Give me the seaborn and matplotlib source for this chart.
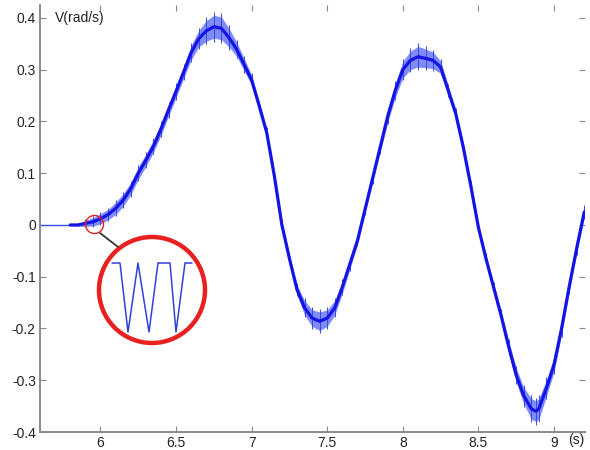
import numpy as np
import pandas as pd
import matplotlib
matplotlib.use("Agg")
import matplotlib.pyplot as plt
import seaborn as sns
from matplotlib.patches import Ellipse
from matplotlib.lines import Line2D

# ---- data ----
time_s = [5.60, 5.70, 5.80, 5.85, 5.90, 5.95, 6.00, 6.05, 6.10, 6.15, 6.20, 6.25,
          6.30, 6.35, 6.40, 6.45, 6.50, 6.55, 6.60, 6.65, 6.70, 6.75, 6.80, 6.85,
          6.90, 6.95, 7.00, 7.05, 7.10, 7.15, 7.20, 7.25, 7.30, 7.35, 7.40, 7.45,
          7.50, 7.55, 7.60, 7.65, 7.70, 7.75, 7.80, 7.85, 7.90, 7.95, 8.00, 8.05,
          8.10, 8.15, 8.20, 8.25, 8.30, 8.35, 8.40, 8.45, 8.50, 8.55, 8.60, 8.65,
          8.70, 8.75, 8.80, 8.85, 8.88, 8.90, 8.95, 9.00, 9.05, 9.10, 9.15, 9.20]
speed = [0.0, 0.0, 0.0, 0.0, 0.003, 0.006, 0.012, 0.02, 0.032, 0.048, 0.07, 0.10,
         0.125, 0.152, 0.185, 0.222, 0.258, 0.295, 0.333, 0.36, 0.375, 0.383, 0.38, 0.362,
         0.34, 0.31, 0.28, 0.23, 0.178, 0.095, 0.0, -0.065, -0.125, -0.16, -0.18, -0.186,
         -0.18, -0.16, -0.12, -0.075, -0.03, 0.03, 0.09, 0.15, 0.21, 0.26, 0.30, 0.318,
         0.325, 0.322, 0.318, 0.305, 0.26, 0.215, 0.15, 0.075, -0.005, -0.065, -0.12, -0.175,
         -0.235, -0.29, -0.33, -0.355, -0.36, -0.355, -0.315, -0.27, -0.20, -0.12, -0.045, 0.025]
noise_halfwidth = [0.0, 0.0, 0.0, 0.002, 0.006, 0.008, 0.01, 0.01, 0.012, 0.012, 0.012, 0.012,
                   0.012, 0.012, 0.012, 0.012, 0.012, 0.012, 0.014, 0.016, 0.02, 0.022, 0.022, 0.018,
                   0.014, 0.012, 0.01, 0.008, 0.008, 0.008, 0.008, 0.008, 0.01, 0.014, 0.016, 0.018,
                   0.016, 0.014, 0.012, 0.01, 0.008, 0.008, 0.008, 0.01, 0.012, 0.014, 0.016, 0.018,
                   0.02, 0.018, 0.016, 0.012, 0.01, 0.008, 0.008, 0.008, 0.008, 0.008, 0.008, 0.01,
                   0.012, 0.014, 0.016, 0.02, 0.02, 0.02, 0.016, 0.014, 0.012, 0.01, 0.01, 0.01]

x_ticks = [6, 6.5, 7, 7.5, 8, 8.5, 9]
x_tick_labels = ["6", "6.5", "7", "7.5", "8", "8.5", "9"]
y_ticks = [-0.4, -0.3, -0.2, -0.1, 0, 0.1, 0.2, 0.3, 0.4]
y_tick_labels = ["-0.4", "-0.3", "-0.2", "-0.1", "0", "0.1", "0.2", "0.3", "0.4"]

# inset (magnified waveform) shape, in inset pixel units
inset_x = [17, 25, 33, 43, 54, 63, 75, 81, 90, 97]
inset_y = [85, 85, 16, 85, 16, 85, 85, 16, 85, 85]

df = pd.DataFrame({"t": time_s, "v": speed, "hw": noise_halfwidth})
lead = df[df["t"] <= 5.85]
active = df[df["t"] >= 5.80]

sns.set_style("white")
plt.rcParams["font.family"] = ["Liberation Sans", "DejaVu Sans"]

W, H = 590, 450
fig = plt.figure(figsize=(W / 100, H / 100), dpi=100)
ax = fig.add_axes([40 / W, 1 - 432 / H, 545 / W, 427 / H])

blue = "#1414e6"
ax.fill_between(df["t"], df["v"] - df["hw"], df["v"] + df["hw"],
                color="#4a5cf2", alpha=0.7, linewidth=0)
# vertical noise spikes at each sample
ax.vlines(active["t"], active["v"] - 1.3 * active["hw"], active["v"] + 1.3 * active["hw"],
          color="#3848e8", linewidth=0.7)
sns.lineplot(data=lead, x="t", y="v", ax=ax, color="#3a4ae8", linewidth=1.0, sort=False)
sns.lineplot(data=active, x="t", y="v", ax=ax, color=blue, linewidth=2.3, sort=False)

# small red circle marking the magnified region
ax.plot([5.954], [0.002], marker="o", ms=13, mfc="none", mec="#e82020", mew=1.0, ls="none")

ax.set_xlim(5.6, 9.205)
ax.set_ylim(-0.4, 0.425)
ax.set_xticks(x_ticks)
ax.set_xticklabels(x_tick_labels)
ax.set_yticks(y_ticks)
ax.set_yticklabels(y_tick_labels)
ax.set_xlabel("")
ax.set_ylabel("")

for s in ["top", "right"]:
    ax.spines[s].set_visible(False)
for s in ["left", "bottom"]:
    ax.spines[s].set_color("#8a8a8a")
    ax.spines[s].set_linewidth(1.4)

ax.tick_params(axis="both", direction="in", length=4, width=0.8, color="#8a8a8a",
               labelsize=10, labelcolor="#222222", top=True, right=True,
               bottom=True, left=True)
ax.tick_params(axis="x", pad=3)
ax.tick_params(axis="y", pad=3)

fig.text(55 / W, 1 - 18 / H, "V(rad/s)", fontsize=10, color="#222222",
         ha="left", va="center")
fig.text(568 / W, 1 - 440 / H, "(s)", fontsize=10, color="#222222",
         ha="left", va="center")

# connector line
fig.add_artist(Line2D([100 / W, 118 / W], [1 - 233 / H, 1 - 247 / H],
                      color="#333333", linewidth=1.3, transform=fig.transFigure))

# inset: big red circle with magnified waveform
iax = fig.add_axes([95 / W, 1 - 348 / H, 115 / W, 115 / H])
iax.set_xlim(0, 115)
iax.set_ylim(0, 115)
iax.axis("off")
iax.patch.set_alpha(0)
iax.add_patch(Ellipse((57, 58), 106, 106, fill=False, edgecolor="#e82020", linewidth=3.2))
iax.plot(inset_x, inset_y, color="#3340d8", linewidth=1.1)

fig.savefig("out.png", dpi=100)
